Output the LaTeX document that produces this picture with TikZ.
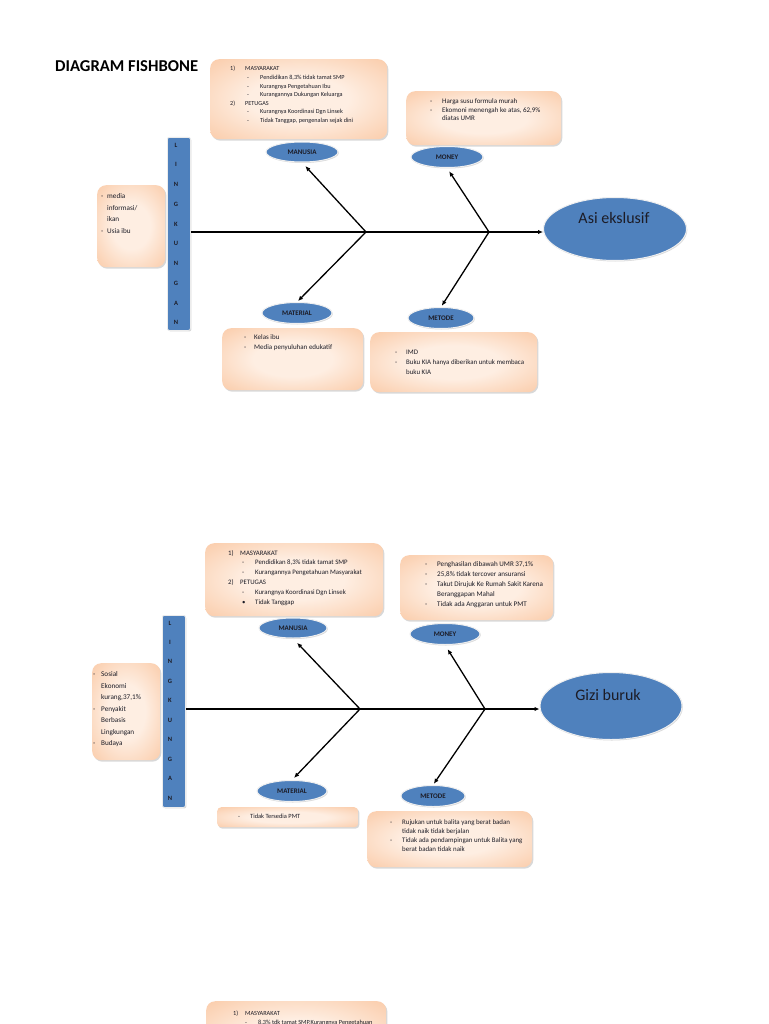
\documentclass[tikz,border=0pt]{standalone}
\usepackage{fontspec}
\setmainfont{Carlito}
\usetikzlibrary{arrows.meta,shapes.geometric,shadows}
\definecolor{peachin}{RGB}{254,238,226}
\definecolor{peachout}{RGB}{248,182,134}
\definecolor{ellblue}{RGB}{79,129,189}
\definecolor{ink}{RGB}{28,28,38}
\pgfdeclareradialshading{peachshade}{\pgfpoint{0bp}{0bp}}{color(0bp)=(peachin); color(14bp)=(peachin); color(50bp)=(peachout); color(72bp)=(peachout)}
\tikzset{
  obox/.style={shading=peachshade, rounded corners=9pt, inner sep=0pt, anchor=north west,
    drop shadow={shadow xshift=1.2pt, shadow yshift=-1.5pt, opacity=0.3}},
  btxt/.style={anchor=north west, inner sep=0pt, align=left, text=ink},
  cat/.style={ellipse, fill=ellblue, draw=white!88!gray, line width=1pt, inner sep=0pt,
    font=\fontsize{7}{8}\selectfont\bfseries, text=ink,
    drop shadow={shadow xshift=0.8pt, shadow yshift=-1pt, opacity=0.3}},
  effect/.style={ellipse, fill=ellblue, draw=white!88!gray, line width=1pt, inner sep=0pt,
    drop shadow={shadow xshift=0.8pt, shadow yshift=-1pt, opacity=0.3}},
  efftext/.style={inner sep=0pt, font=\fontsize{16}{18}\selectfont, text=ink},
  bar/.style={fill=ellblue, draw=white!85!gray, line width=0.8pt, rounded corners=2pt, inner sep=0pt, anchor=north west,
    drop shadow={shadow xshift=1pt, shadow yshift=-1pt, opacity=0.3}},
  barletters/.style={inner sep=0pt, align=center, text=ink},
  bone/.style={line width=1.3pt, draw=black, -{Latex[length=5pt,width=4.5pt]}}
}
\begin{document}
\begin{tikzpicture}[x=1pt,y=-1pt]
\clip (0,0) rectangle (768,1024);
\fill[white] (0,0) rectangle (768,1024);

% ---------------- Diagram 1 ----------------
\node[font=\fontsize{16.6}{19}\selectfont\bfseries, anchor=west, inner sep=0pt, text=black] (title) at (55,66.5) {DIAGRAM FISHBONE};

\node[obox, minimum width=177pt, minimum height=80pt] (mb1) at (210,59) {};
\node[btxt, font=\fontsize{6.2}{8.6}\selectfont] (mt1) at (230,66.2) {%
\makebox[15pt][l]{1)}MASYARAKAT\\
\hspace*{17pt}\makebox[13pt][l]{-}Pendidikan 8,3\% tidak tamat SMP\\
\hspace*{17pt}\makebox[13pt][l]{-}Kurangnya Pengetahuan Ibu\\
\hspace*{17pt}\makebox[13pt][l]{-}Kurangannya Dukungan Keluarga\\
\makebox[15pt][l]{2)}PETUGAS\\
\hspace*{17pt}\makebox[13pt][l]{-}Kurangnya Koordinasi Dgn Linsek\\
\hspace*{17pt}\makebox[13pt][l]{-}Tidak Tanggap, pengenalan sejak dini};

\node[obox, minimum width=155pt, minimum height=54pt] (yb1) at (406,91) {};
\node[btxt, font=\fontsize{7}{8.8}\selectfont] (yt1) at (430,98.3) {%
\makebox[12pt][l]{-}Harga susu formula murah\\
\makebox[12pt][l]{-}Ekomoni menengah ke atas, 62,9\%\\
\hspace*{12pt}diatas UMR};

\node[obox, minimum width=141pt, minimum height=62pt] (tb1) at (222,328) {};
\node[btxt, font=\fontsize{7}{10}\selectfont] (tt1) at (244,334.8) {%
\makebox[10pt][l]{-}Kelas ibu\\
\makebox[10pt][l]{-}Media penyuluhan edukatif};

\node[obox, minimum width=167pt, minimum height=60pt] (db1) at (370,332) {};
\node[btxt, font=\fontsize{6.9}{10}\selectfont] (dt1) at (395,349.8) {%
\makebox[11pt][l]{-}IMD\\
\makebox[11pt][l]{-}Buku KIA hanya diberikan untuk membaca\\
\hspace*{11pt}buku KIA};

\node[obox, minimum width=68pt, minimum height=82pt] (lb1) at (97,185) {};
\node[btxt, font=\fontsize{7.2}{11.7}\selectfont] (lt1) at (101,193.4) {%
\makebox[6pt][l]{-}media\\
\hspace*{6pt}informasi/\\
\hspace*{6pt}ikan\\
\makebox[6pt][l]{-}Usia ibu};

\node[bar, minimum width=23pt, minimum height=193pt] (bar1) at (167,137) {};
\node[barletters, font=\fontsize{6.5}{19.75}\selectfont\bfseries] (ling1) at (176,234) {L\\I\\N\\G\\K\\U\\N\\G\\A\\N};

\node[cat, minimum width=72pt, minimum height=20pt] (man1) at (302,152) {MANUSIA};
\node[cat, minimum width=72pt, minimum height=21pt] (mon1) at (447,157) {MONEY};
\node[cat, minimum width=70pt, minimum height=21pt] (mat1) at (297,313) {MATERIAL};
\node[cat, minimum width=66pt, minimum height=21pt] (met1) at (441,318) {METODE};
\node[effect, minimum width=143pt, minimum height=63pt] (eff1) at (615,229) {};
\node[efftext] (et1) at (614,218) {Asi ekslusif};

\coordinate (j1) at (366,232);
\coordinate (j2) at (489,232);
\draw[bone] (bar1.east |- j1) -- (j1) -- (j2) -- (eff1.west |- j2);
\draw[bone, shorten >=5pt] (j1) -- (man1.south);
\draw[bone, shorten >=4pt] (j2) -- (mon1.south);
\draw[bone, shorten >=1.5pt] (j1) -- (mat1.north);
\draw[bone, shorten >=1.5pt] (j2) -- (met1.north);

% ---------------- Diagram 2 ----------------
\node[obox, minimum width=178pt, minimum height=73pt] (mb2) at (205,543) {};
\node[btxt, font=\fontsize{6.8}{9.8}\selectfont] (mt2) at (228,549.9) {%
\makebox[12pt][l]{1)}MASYARAKAT\\
\hspace*{14pt}\makebox[13pt][l]{-}Pendidikan 8,3\% tidak tamat SMP\\
\hspace*{14pt}\makebox[13pt][l]{-}Kurangannya Pengetahuan Masyarakat\\
\makebox[12pt][l]{2)}PETUGAS\\
\hspace*{14pt}\makebox[13pt][l]{-}Kurangnya Koordinasi Dgn Linsek\\
\hspace*{14pt}\makebox[13pt][l]{\textbullet}Tidak Tanggap};

\node[obox, minimum width=153pt, minimum height=65pt] (yb2) at (400,555) {};
\node[btxt, font=\fontsize{7.1}{9.9}\selectfont] (yt2) at (425,561.8) {%
\makebox[12pt][l]{-}Penghasilan dibawah UMR 37,1\%\\
\makebox[12pt][l]{-}25,8\% tidak tercover ansuransi\\
\makebox[12pt][l]{-}Takut Dirujuk Ke Rumah Sakit Karena\\
\hspace*{12pt}Beranggapan Mahal\\
\makebox[12pt][l]{-}Tidak ada Anggaran untuk PMT};

\node[obox, rounded corners=4pt, minimum width=141pt, minimum height=20pt] (tb2) at (217,807) {};
\node[btxt, font=\fontsize{6.4}{9}\selectfont] (tt2) at (238,814.2) {%
\makebox[12pt][l]{-}Tidak Tersedia PMT};

\node[obox, minimum width=165pt, minimum height=56pt] (db2) at (367,811) {};
\node[btxt, font=\fontsize{6.9}{9.1}\selectfont] (dt2) at (390,819) {%
\makebox[12pt][l]{-}Rujukan untuk balita yang berat badan\\
\hspace*{12pt}tidak naik tidak berjalan\\
\makebox[12pt][l]{-}Tidak ada pendampingan untuk Balita yang\\
\hspace*{12pt}berat badan tidak naik};

\node[obox, minimum width=68pt, minimum height=97pt] (lb2) at (92,663) {};
\node[btxt, font=\fontsize{7.2}{11.5}\selectfont] (lt2) at (93,671.6) {%
\makebox[8pt][l]{-}Sosial\\
\hspace*{8pt}Ekonomi\\
\hspace*{8pt}kurang,37,1\%\\
\makebox[8pt][l]{-}Penyakit\\
\hspace*{8pt}Berbasis\\
\hspace*{8pt}Lingkungan\\
\makebox[8pt][l]{-}Budaya};

\node[bar, minimum width=23pt, minimum height=192pt] (bar2) at (162,615) {};
\node[barletters, font=\fontsize{6.5}{19.45}\selectfont\bfseries] (ling2) at (170,710.5) {L\\I\\N\\G\\K\\U\\N\\G\\A\\N};

\node[cat, minimum width=68pt, minimum height=20pt] (man2) at (293,628) {MANUSIA};
\node[cat, minimum width=70pt, minimum height=21pt] (mon2) at (445,634) {MONEY};
\node[cat, minimum width=70pt, minimum height=21pt] (mat2) at (292,791) {MATERIAL};
\node[cat, minimum width=64pt, minimum height=21pt] (met2) at (433,796) {METODE};
\node[effect, minimum width=142pt, minimum height=67pt] (eff2) at (611,706) {};
\node[efftext] (et2) at (608,695) {Gizi buruk};

\coordinate (k1) at (360,709);
\coordinate (k2) at (485,709);
\draw[bone] (bar2.east |- k1) -- (k1) -- (k2) -- (eff2.west |- k2);
\draw[bone, shorten >=6pt] (k1) -- (man2.south);
\draw[bone, shorten >=5pt] (k2) -- (mon2.south);
\draw[bone, shorten >=3pt] (k1) -- (mat2.north);
\draw[bone, shorten >=1.5pt] (k2) -- (met2.north);

% ---------------- Diagram 3 (partial) ----------------
\node[obox, minimum width=180pt, minimum height=80pt] (mb3) at (206,1001) {};
\node[btxt, font=\fontsize{6.3}{9}\selectfont] (mt3) at (233,1010.2) {%
\makebox[12pt][l]{1)}MASYARAKAT\\
\hspace*{12pt}\makebox[13pt][l]{-}8,3\% tdk tamat SMP.Kurangnya Pengetahuan};
\end{tikzpicture}
\end{document}
